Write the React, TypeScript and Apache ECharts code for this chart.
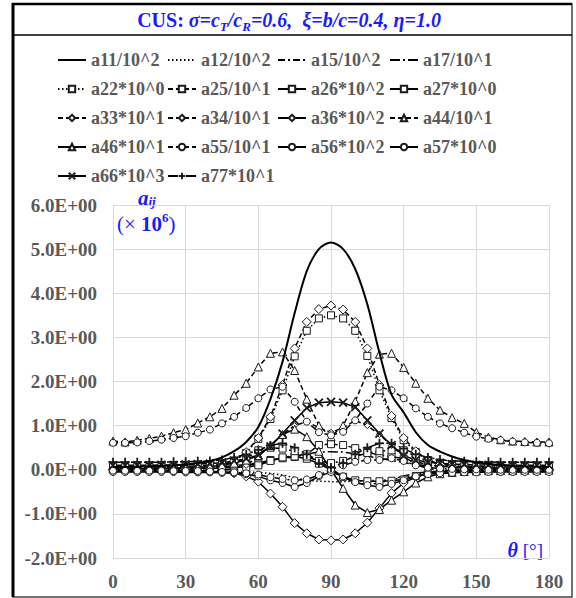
import React, { useEffect, useRef } from "react";
import * as echarts from "echarts";

// θ [°]
const theta = [0, 5, 10, 15, 20, 25, 30, 35, 40, 45, 50, 55, 60, 65, 70, 75, 80, 85, 90, 95, 100, 105, 110, 115, 120, 125, 130, 135, 140, 145, 150, 155, 160, 165, 170, 175, 180];

const a11 = [0.06, 0.06, 0.07, 0.08, 0.09, 0.10, 0.12, 0.15, 0.20, 0.28, 0.42, 0.63, 0.97, 1.60, 2.45, 3.55, 4.50, 5.00, 5.15, 5.00, 4.55, 3.75, 2.65, 1.70, 1.30, 0.85, 0.56, 0.41, 0.30, 0.22, 0.17, 0.13, 0.11, 0.09, 0.08, 0.07, 0.06];
const a12 = [-0.02, -0.02, -0.02, -0.02, -0.02, -0.03, -0.03, -0.03, -0.04, -0.04, -0.05, -0.05, -0.06, -0.08, -0.12, -0.18, -0.24, -0.26, -0.27, -0.27, -0.26, -0.25, -0.24, -0.22, -0.18, -0.12, -0.07, -0.05, -0.04, -0.03, -0.03, -0.03, -0.02, -0.02, -0.02, -0.02, -0.02];
const a15 = [0.00, 0.00, 0.00, 0.00, 0.01, 0.01, 0.01, 0.02, 0.03, 0.04, 0.06, 0.09, 0.14, 0.20, 0.27, 0.33, 0.34, 0.22, 0.03, -0.16, -0.30, -0.34, -0.30, -0.22, -0.14, -0.08, -0.05, -0.03, -0.02, -0.01, -0.01, -0.01, 0.00, 0.00, 0.00, 0.00, 0.00];
const a17 = [0.03, 0.03, 0.03, 0.03, 0.04, 0.04, 0.05, 0.05, 0.06, 0.07, 0.09, 0.12, 0.16, 0.21, 0.26, 0.31, 0.36, 0.40, 0.41, 0.40, 0.36, 0.31, 0.26, 0.21, 0.16, 0.12, 0.09, 0.07, 0.06, 0.05, 0.05, 0.04, 0.04, 0.03, 0.03, 0.03, 0.03];
const a22 = [0.02, 0.02, 0.02, 0.03, 0.03, 0.04, 0.05, 0.06, 0.08, 0.12, 0.20, 0.38, 0.70, 1.15, 1.80, 2.57, 3.15, 3.43, 3.50, 3.43, 3.15, 2.58, 1.80, 1.17, 0.67, 0.40, 0.22, 0.13, 0.09, 0.06, 0.05, 0.04, 0.03, 0.03, 0.02, 0.02, 0.02];
const a25 = [0.03, 0.03, 0.03, 0.03, 0.03, 0.04, 0.04, 0.05, 0.05, 0.06, 0.08, 0.11, 0.14, 0.22, 0.26, 0.29, 0.35, 0.56, 0.58, 0.56, 0.49, 0.40, 0.33, 0.30, 0.25, 0.18, 0.12, 0.08, 0.06, 0.05, 0.04, 0.04, 0.03, 0.03, 0.03, 0.03, 0.03];
const a26 = [0.02, 0.02, 0.02, 0.02, 0.02, 0.02, 0.03, 0.03, 0.03, 0.04, 0.05, 0.06, 0.10, 0.20, 0.28, 0.30, 0.25, 0.14, 0.00, -0.16, -0.24, -0.26, -0.26, -0.25, -0.22, -0.14, -0.08, -0.05, -0.03, -0.02, -0.02, -0.01, -0.01, -0.01, -0.01, -0.01, -0.01];
const a27 = [0.06, 0.06, 0.06, 0.06, 0.07, 0.07, 0.08, 0.09, 0.10, 0.12, 0.16, 0.25, 0.44, 0.50, 0.48, 0.42, 0.30, 0.20, 0.15, 0.20, 0.30, 0.38, 0.42, 0.44, 0.44, 0.30, 0.20, 0.13, 0.09, 0.08, 0.07, 0.07, 0.06, 0.06, 0.06, 0.06, 0.06];
const a33 = [0.00, 0.00, 0.00, 0.01, 0.01, 0.02, 0.03, 0.04, 0.06, 0.10, 0.20, 0.40, 0.72, 1.20, 1.92, 2.75, 3.35, 3.64, 3.72, 3.63, 3.35, 2.75, 1.92, 1.22, 0.72, 0.42, 0.22, 0.12, 0.07, 0.04, 0.03, 0.02, 0.01, 0.01, 0.00, 0.00, 0.00];
const a34 = [-0.04, -0.04, -0.04, -0.04, -0.04, -0.04, -0.03, -0.03, -0.02, -0.01, 0.01, 0.10, 0.30, 0.55, 0.80, 1.00, 1.09, 0.95, 0.85, 0.95, 1.12, 1.00, 0.80, 0.55, 0.30, 0.12, 0.03, -0.01, -0.02, -0.03, -0.03, -0.04, -0.04, -0.04, -0.04, -0.04, -0.04];
const a36 = [-0.02, -0.02, -0.02, -0.02, -0.02, -0.02, -0.03, -0.03, -0.04, -0.05, -0.08, -0.15, -0.27, -0.54, -0.84, -1.21, -1.44, -1.58, -1.60, -1.58, -1.44, -1.20, -0.87, -0.53, -0.30, -0.16, -0.09, -0.06, -0.04, -0.03, -0.03, -0.02, -0.02, -0.02, -0.02, -0.02, -0.02];
const a44 = [0.65, 0.63, 0.67, 0.71, 0.76, 0.84, 0.91, 1.06, 1.20, 1.39, 1.69, 1.96, 2.33, 2.64, 2.67, 2.25, 1.60, 1.00, 0.75, 1.00, 1.55, 2.20, 2.62, 2.64, 2.32, 1.96, 1.62, 1.35, 1.18, 1.05, 0.85, 0.74, 0.68, 0.65, 0.64, 0.63, 0.63];
const a46 = [0.02, 0.02, 0.02, 0.02, 0.03, 0.03, 0.04, 0.05, 0.07, 0.10, 0.15, 0.22, 0.32, 0.55, 0.80, 0.92, 0.75, 0.42, 0.00, -0.42, -0.80, -0.97, -0.90, -0.69, -0.50, -0.30, -0.16, -0.09, -0.06, -0.04, -0.03, -0.02, -0.02, -0.02, -0.01, -0.01, -0.01];
const a55 = [0.61, 0.61, 0.62, 0.65, 0.68, 0.72, 0.76, 0.84, 0.91, 1.05, 1.20, 1.40, 1.62, 1.82, 1.88, 1.54, 1.09, 0.85, 0.78, 0.86, 1.12, 1.50, 1.88, 1.80, 1.62, 1.39, 1.20, 1.05, 0.94, 0.84, 0.75, 0.70, 0.67, 0.64, 0.62, 0.61, 0.60];
const a56 = [-0.05, -0.05, -0.05, -0.05, -0.05, -0.05, -0.06, -0.06, -0.06, -0.07, -0.08, -0.10, -0.15, -0.24, -0.30, -0.39, -0.30, -0.15, -0.05, -0.15, -0.28, -0.35, -0.39, -0.32, -0.24, -0.15, -0.10, -0.08, -0.07, -0.06, -0.06, -0.05, -0.05, -0.05, -0.05, -0.05, -0.05];
const a57 = [-0.02, -0.02, -0.02, -0.02, -0.02, -0.03, -0.03, -0.03, -0.04, -0.05, -0.06, -0.08, -0.11, -0.17, -0.21, -0.24, -0.22, -0.12, 0.00, 0.10, 0.18, 0.22, 0.22, 0.26, 0.20, 0.10, 0.05, 0.03, 0.02, 0.01, 0.01, 0.00, 0.00, 0.00, 0.00, 0.00, 0.00];
const a66 = [0.10, 0.10, 0.10, 0.10, 0.11, 0.11, 0.12, 0.13, 0.14, 0.16, 0.20, 0.25, 0.33, 0.53, 0.82, 1.12, 1.40, 1.52, 1.54, 1.52, 1.42, 1.12, 0.82, 0.56, 0.32, 0.22, 0.17, 0.15, 0.13, 0.12, 0.11, 0.11, 0.10, 0.10, 0.10, 0.10, 0.10];
const a77 = [0.17, 0.17, 0.17, 0.17, 0.17, 0.18, 0.18, 0.19, 0.20, 0.22, 0.28, 0.35, 0.45, 0.55, 0.60, 0.50, 0.35, 0.15, 0.05, 0.15, 0.35, 0.50, 0.60, 0.60, 0.48, 0.35, 0.28, 0.23, 0.20, 0.19, 0.18, 0.18, 0.17, 0.17, 0.17, 0.17, 0.17];

const yTicks = [-2, -1, 0, 1, 2, 3, 4, 5, 6];
const xTicks = [0, 30, 60, 90, 120, 150, 180];

const legendCols = [
  ["a11/10^2", "a22*10^0", "a33*10^1", "a46*10^1", "a66*10^3"],
  ["a12/10^2", "a25/10^1", "a34/10^1", "a55/10^1", "a77*10^1"],
  ["a15/10^2", "a26*10^2", "a36*10^2", "a56*10^2"],
  ["a17/10^1", "a27*10^0", "a44/10^1", "a57*10^0"],
];

const SERIF = "'Liberation Serif', 'Times New Roman', serif";
const GRAY = "#595959";
const BLUE = "#1a1aff";
const X_PATH = "path://M0,0L10,10M10,0L0,10";
const PLUS_PATH = "path://M5,0L5,10M0,5L10,5";

const DOT: number[] = [1.5, 2.5];
const DASH: number[] = [5, 3];
const DASHDOT: number[] = [7, 3, 2, 3];
const LONGDOT: number[] = [10, 3, 2, 3];

const specs: any[] = [
  { name: "a11/10^2", data: a11, dash: "solid", symbol: "none", size: 0, width: 2 },
  { name: "a12/10^2", data: a12, dash: DOT, symbol: "none", size: 0, width: 1.5 },
  { name: "a15/10^2", data: a15, dash: DASHDOT, symbol: "none", size: 0, width: 1.5 },
  { name: "a17/10^1", data: a17, dash: LONGDOT, symbol: "none", size: 0, width: 1.5 },
  { name: "a22*10^0", data: a22, dash: DOT, symbol: "rect", size: 7, width: 1.5 },
  { name: "a25/10^1", data: a25, dash: DASH, symbol: "rect", size: 7, width: 1.5 },
  { name: "a26*10^2", data: a26, dash: "solid", symbol: "rect", size: 7, width: 1.5 },
  { name: "a27*10^0", data: a27, dash: LONGDOT, symbol: "rect", size: 7, width: 1.5 },
  { name: "a33*10^1", data: a33, dash: DASH, symbol: "diamond", size: 9, width: 1.5 },
  { name: "a34/10^1", data: a34, dash: DASH, symbol: "diamond", size: 6, width: 1.5 },
  { name: "a36*10^2", data: a36, dash: "solid", symbol: "diamond", size: 9, width: 1.5 },
  { name: "a44/10^1", data: a44, dash: DASH, symbol: "triangle", size: 8, width: 1.5 },
  { name: "a46*10^1", data: a46, dash: "solid", symbol: "triangle", size: 8, width: 1.5 },
  { name: "a55/10^1", data: a55, dash: DASH, symbol: "circle", size: 7, width: 1.5 },
  { name: "a56*10^2", data: a56, dash: "solid", symbol: "circle", size: 7, width: 1.5 },
  { name: "a57*10^0", data: a57, dash: LONGDOT, symbol: "circle", size: 7, width: 1.5 },
  { name: "a66*10^3", data: a66, dash: "solid", symbol: X_PATH, size: 8, width: 1.5 },
  { name: "a77*10^1", data: a77, dash: LONGDOT, symbol: PLUS_PATH, size: 9, width: 1.5 },
];

const noMarker = new Set(specs.filter((s) => s.symbol === "none").map((s) => s.name));

const fmtY = (v: number) => (v < 0 ? "-" : "") + Math.abs(v).toFixed(1) + "E+00";

export default function App() {
  const ref = useRef<HTMLDivElement>(null);
  useEffect(() => {
    if (!ref.current) return;
    const chart = echarts.init(ref.current, undefined, { renderer: "svg" });
    const series = specs.map((s) => ({
      name: s.name,
      type: "line",
      data: theta.map((t, i) => [t, s.data[i]]),
      symbol: s.symbol,
      symbolSize: s.size,
      showSymbol: s.symbol !== "none",
      smooth: s.name === "a11/10^2" ? 0.3 : false,
      lineStyle: { color: "#000", width: s.width, type: s.dash },
      itemStyle: { color: "#fff", borderColor: "#1a1a1a", borderWidth: s.symbol.startsWith("path") ? 1.8 : 1 },
      emphasis: { disabled: true },
      z: s.name === "a11/10^2" ? 3 : 2,
    }));
    const legendLefts = [52, 162, 272, 384];
    const legends = legendCols.map((col, i) => ({
      orient: "vertical",
      left: legendLefts[i],
      top: 46,
      itemWidth: 28,
      itemHeight: 8,
      itemGap: 11,
      selectedMode: false,
      data: col.map((n) => (noMarker.has(n) ? { name: n, itemStyle: { opacity: 0 } } : { name: n })),
      textStyle: { fontFamily: SERIF, fontWeight: "bold", fontSize: 18, color: GRAY, lineHeight: 18 },
    }));
    chart.setOption({
      animation: false,
      backgroundColor: "#fff",
      grid: { left: 113, right: 27, top: 205, bottom: 40, containLabel: false },
      legend: legends,
      xAxis: {
        type: "value",
        min: 0,
        max: 180,
        interval: 30,
        axisLine: { show: false },
        axisTick: { show: false },
        splitLine: { show: true, lineStyle: { color: "#d9d9d9", width: 1 } },
        axisLabel: {
          fontFamily: SERIF, fontWeight: "bold", fontSize: 19, color: GRAY, margin: 14,
          formatter: (v: number) => (xTicks.includes(v) ? String(v) : ""),
        },
      },
      yAxis: {
        type: "value",
        min: -2,
        max: 6,
        interval: 1,
        axisLine: { show: false },
        axisTick: { show: false },
        splitLine: { show: true, lineStyle: { color: "#d9d9d9", width: 1 } },
        axisLabel: {
          fontFamily: SERIF, fontWeight: "bold", fontSize: 19, color: GRAY, margin: 16,
          formatter: (v: number) => (yTicks.includes(v) ? fmtY(v) : ""),
        },
      },
      graphic: [
        { type: "rect", shape: { x: 13, y: 4, width: 559, height: 593 }, style: { fill: "none", stroke: "#444", lineWidth: 1.5 }, silent: true },
        { type: "line", shape: { x1: 13, y1: 3, x2: 13, y2: 597 }, style: { stroke: "#000", lineWidth: 3 }, silent: true },
        { type: "line", shape: { x1: 12, y1: 4, x2: 572, y2: 4 }, style: { stroke: "#000", lineWidth: 2.5 }, silent: true },
        { type: "line", shape: { x1: 13, y1: 35, x2: 572, y2: 35 }, style: { stroke: "#000", lineWidth: 1.5 }, silent: true },
        {
          type: "text", x: 289, y: 20, silent: true,
          style: {
            text: "{a|CUS: }{b|σ=c}{s|T}{b|/c}{s|R}{b|=0.6,  ξ=b/c=0.4, η=1.0}",
            align: "center", verticalAlign: "middle",
            rich: {
              a: { fontFamily: SERIF, fontWeight: "bold", fontSize: 20, fill: BLUE, lineHeight: 26, verticalAlign: "middle" },
              b: { fontFamily: SERIF, fontWeight: "bold", fontStyle: "italic", fontSize: 20, fill: BLUE, lineHeight: 26, verticalAlign: "middle" },
              s: { fontFamily: SERIF, fontWeight: "bold", fontStyle: "italic", fontSize: 13, fill: BLUE, lineHeight: 13, verticalAlign: "bottom" },
            },
          },
        },
        {
          type: "text", x: 138, y: 198, silent: true,
          style: {
            text: "{a|a}{s|ij}",
            align: "left", verticalAlign: "middle",
            rich: {
              a: { fontFamily: SERIF, fontWeight: "bold", fontStyle: "italic", fontSize: 21, fill: BLUE, lineHeight: 20, verticalAlign: "middle" },
              s: { fontFamily: SERIF, fontWeight: "bold", fontStyle: "italic", fontSize: 13, fill: BLUE, lineHeight: 10, verticalAlign: "bottom" },
            },
          },
        },
        {
          type: "text", x: 117, y: 224, silent: true,
          style: {
            text: "{a|(× }{b|10}{p|6}{a|)}",
            align: "left", verticalAlign: "middle",
            rich: {
              a: { fontFamily: SERIF, fontSize: 21, fill: BLUE, lineHeight: 26, verticalAlign: "middle" },
              b: { fontFamily: SERIF, fontWeight: "bold", fontSize: 21, fill: BLUE, lineHeight: 26, verticalAlign: "middle" },
              p: { fontFamily: SERIF, fontWeight: "bold", fontSize: 13, fill: BLUE, lineHeight: 13, verticalAlign: "top" },
            },
          },
        },
        {
          type: "text", x: 543, y: 550, silent: true,
          style: {
            text: "{t|θ}{u| [°]}",
            align: "right", verticalAlign: "middle",
            rich: {
              t: { fontFamily: SERIF, fontWeight: "bold", fontStyle: "italic", fontSize: 20, fill: BLUE },
              u: { fontFamily: SERIF, fontSize: 19, fill: BLUE },
            },
          },
        },
      ],
      series,
    });
    return () => chart.dispose();
  }, []);
  return <div ref={ref} style={{ position: "absolute", left: 0, top: 0, width: 576, height: 598 }} />;
}
